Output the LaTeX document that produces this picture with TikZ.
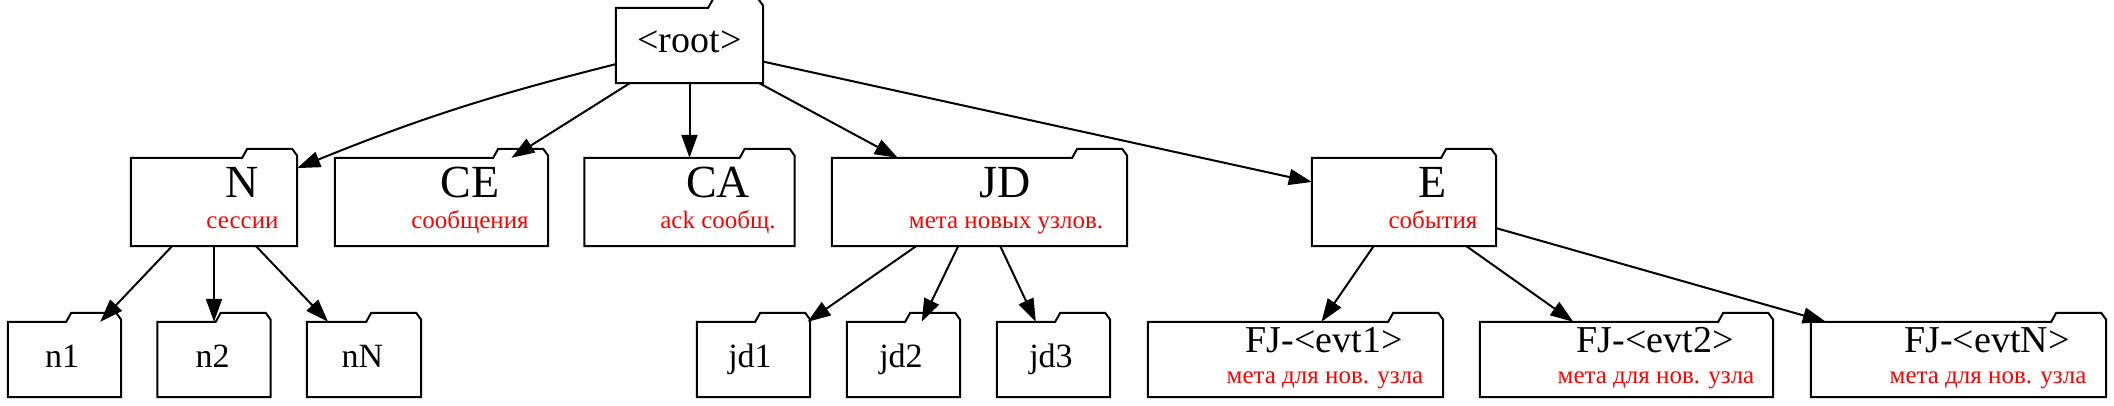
\documentclass[tikz,border=0pt]{standalone}
\usepackage{fontspec}
\setmainfont{Liberation Serif}
\usetikzlibrary{arrows.meta}
\newcommand\foldbox[1]{%
  \draw[folder] (#1.south west) -- (#1.north west) -- ([xshift=-55pt]#1.north east)
    -- ([xshift=-50pt,yshift=9pt]#1.north east) -- ([xshift=-5pt,yshift=9pt]#1.north east)
    -- ([yshift=2pt]#1.north east) -- (#1.south east) -- cycle;}
\begin{document}
\begin{tikzpicture}[x=1pt,y=-1pt,
  box/.style={draw=none,rectangle,inner sep=0pt,minimum height=88pt},
  leaf/.style={box,minimum height=75pt},
  folder/.style={draw=black,line width=2pt,line join=miter},
  edge/.style={line width=2pt,-{Triangle[length=23pt,width=16pt]}},
  bigt/.style={anchor=base,inner sep=0pt,font=\fontsize{46}{46}\selectfont},
  redt/.style={anchor=base,inner sep=0pt,text=red,font=\fontsize{25}{25}\selectfont},
  midt/.style={anchor=base,inner sep=0pt,font=\fontsize{38}{38}\selectfont},
  leaft/.style={anchor=base,inner sep=0pt,font=\fontsize{34}{34}\selectfont}]
\useasboundingbox (0,0) rectangle (2114,406);
\fill[white] (0,0) rectangle (2114,406);
% boxes
\node[box,minimum width=147pt,minimum height=75pt] (root) at (689.5,45.5) {};
\node[box,minimum width=166pt] (N) at (214,202) {};
\node[box,minimum width=213pt] (CE) at (441.5,202) {};
\node[box,minimum width=210pt] (CA) at (689.5,202) {};
\node[box,minimum width=295pt] (JD) at (979.5,202) {};
\node[box,minimum width=184pt] (E) at (1404,202) {};
\node[leaf,minimum width=113pt] (n1) at (64.5,359.5) {};
\node[leaf,minimum width=113pt] (n2) at (214,359.5) {};
\node[leaf,minimum width=114pt] (nN) at (364,359.5) {};
\node[leaf,minimum width=113pt] (jd1) at (753.5,359.5) {};
\node[leaf,minimum width=113pt] (jd2) at (903.5,359.5) {};
\node[leaf,minimum width=113pt] (jd3) at (1053.5,359.5) {};
\node[leaf,minimum width=295pt] (fj1) at (1295.5,359.5) {};
\node[leaf,minimum width=293pt] (fj2) at (1626.5,359.5) {};
\node[leaf,minimum width=295pt] (fjn) at (1958.5,359.5) {};
\foreach \n in {root,N,CE,CA,JD,E,n1,n2,nN,jd1,jd2,jd3,fj1,fj2,fjn} {\foldbox{\n}}
% texts
\node[midt] (roott) at (689.5,53) {<root>};
\node[bigt] (Nt) at (242.5,198) {N};
\node[redt] (Ns) at (242.5,229) {сессии};
\node[bigt] (CEt) at (470,198) {CE};
\node[redt] (CEs) at (470,229) {сообщения};
\node[bigt] (CAt) at (718,198) {CA};
\node[redt] (CAs) at (718,229) {ack сообщ.};
\node[bigt] (JDt) at (1005,198) {JD};
\node[redt] (JDs) at (1006,229) {мета новых узлов.};
\node[bigt] (Et) at (1433,198) {E};
\node[redt] (Es) at (1433,229) {события};
\node[leaft] (n1t) at (62,367) {n1};
\node[leaft] (n2t) at (212.5,367) {n2};
\node[leaft] (nNt) at (362.5,367) {nN};
\node[leaft] (jd1t) at (750,367) {jd1};
\node[leaft] (jd2t) at (901,367) {jd2};
\node[leaft] (jd3t) at (1051,367) {jd3};
\node[midt] (fj1t) at (1324,352) {FJ-<evt1>};
\node[redt] (fj1s) at (1325,383) {мета для нов. узла};
\node[midt] (fj2t) at (1655,352) {FJ-<evt2>};
\node[redt] (fj2s) at (1656,383) {мета для нов. узла};
\node[midt] (fjnt) at (1987,352) {FJ-<evtN>};
\node[redt] (fjns) at (1988,383) {мета для нов. узла};
% edges
\draw[edge] (root) to[bend right=4] (N);
\draw[edge] (root) -- (CE);
\draw[edge] (root) -- (CA);
\draw[edge] (root) -- (JD);
\draw[edge] (root) -- (E);
\draw[edge] (N) -- (n1);
\draw[edge] (N) -- (n2);
\draw[edge] (N) -- (nN);
\draw[edge] (JD) -- (jd1);
\draw[edge] (JD) -- (jd2);
\draw[edge] (JD) -- (jd3);
\draw[edge] (E) -- (fj1);
\draw[edge] (E) -- (fj2);
\draw[edge] (E) -- (fjn);
\end{tikzpicture}
\end{document}
